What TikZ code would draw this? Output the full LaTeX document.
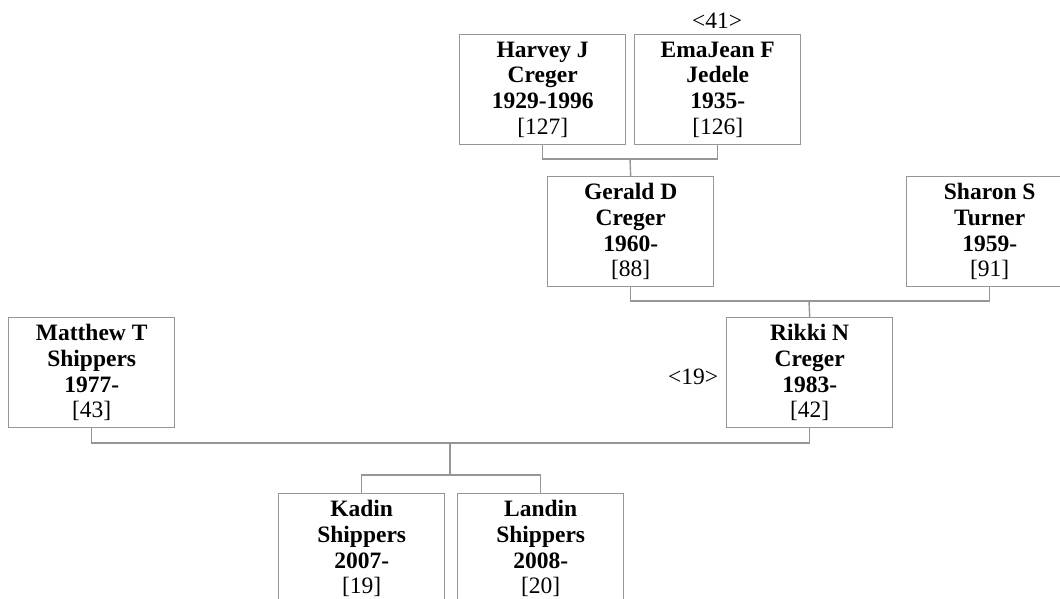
\documentclass[tikz,border=0pt]{standalone}
\usepackage{fontspec}
\setmainfont{Liberation Serif}
\definecolor{linegray}{RGB}{150,150,150}
\newcommand{\personbox}[4]{\textbf{#1}\\\textbf{#2}\\\textbf{#3}\\{[#4]}}
\begin{document}
\begin{tikzpicture}[x=1pt,y=-1pt,
  person/.style={draw=linegray, line width=1.4pt, minimum width=166pt, minimum height=110pt,
    inner sep=0pt, align=center, anchor=north west, font=\fontsize{23.5}{25.7}\selectfont},
  link/.style={draw=linegray, line width=1.4pt},
  tag/.style={font=\fontsize{23.5}{25.7}\selectfont, inner sep=0pt}]
\useasboundingbox (0,0) rectangle (1060,598);
\clip (0,0) rectangle (1060,598);
% people
\node[person] (harvey)  at (459,34)  {\personbox{Harvey J}{Creger}{1929-1996}{127}};
\node[person] (emajean) at (634,34)  {\personbox{EmaJean F}{Jedele}{1935-}{126}};
\node[person] (gerald)  at (547,176) {\personbox{Gerald D}{Creger}{1960-}{88}};
\node[person] (sharon)  at (906,176) {\personbox{Sharon S}{Turner}{1959-}{91}};
\node[person] (matthew) at (8,317)   {\personbox{Matthew T}{Shippers}{1977-}{43}};
\node[person] (rikki)   at (726,317) {\personbox{Rikki N}{Creger}{1983-}{42}};
\node[person] (kadin)   at (278,493) {\personbox{Kadin}{Shippers}{2007-}{19}};
\node[person] (landin)  at (457,493) {\personbox{Landin}{Shippers}{2008-}{20}};
% tags
\node[tag] (t41) at (717,21) {<41>};
\node[tag] (t19) at (693,377) {<19>};
% junctions
\coordinate (j1) at (630,159);
\coordinate (j2) at (809,301);
\coordinate (j3) at (450,443);
\coordinate (j4) at (450,475);
% connectors
\draw[link] (harvey.south) |- (j1) -| (emajean.south);
\draw[link] (j1) -- (gerald.north);
\draw[link] (gerald.south) |- (j2) -| (sharon.south);
\draw[link] (j2) -- (rikki.north);
\draw[link] (matthew.south) |- (j3) -| (rikki.south);
\draw[link] (j3) -- (j4);
\draw[link] (kadin.north) |- (j4) -| (landin.north);
\end{tikzpicture}
\end{document}
